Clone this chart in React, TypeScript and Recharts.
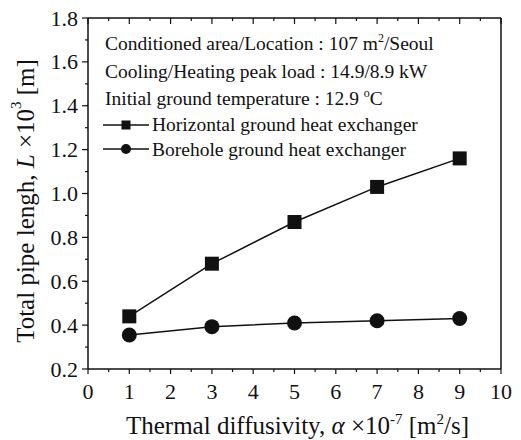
import React from 'react';
import { LineChart, Line, XAxis, YAxis, Legend } from 'recharts';

// ---- data ----
const alphaValues = [1, 3, 5, 7, 9];
const horizontalLength = [0.44, 0.68, 0.87, 1.03, 1.16];
const boreholeLength = [0.355, 0.393, 0.41, 0.42, 0.43];

const xMajorTicks = [0, 1, 2, 3, 4, 5, 6, 7, 8, 9, 10];
const xAllTicks = [0, 0.5, 1, 1.5, 2, 2.5, 3, 3.5, 4, 4.5, 5, 5.5, 6, 6.5, 7, 7.5, 8, 8.5, 9, 9.5, 10];
const yMajorTicks = [0.2, 0.4, 0.6, 0.8, 1.0, 1.2, 1.4, 1.6, 1.8];
const yAllTicks = [0.2, 0.3, 0.4, 0.5, 0.6, 0.7, 0.8, 0.9, 1.0, 1.1, 1.2, 1.3, 1.4, 1.5, 1.6, 1.7, 1.8];

const seriesNames = ['Horizontal ground heat exchanger', 'Borehole ground heat exchanger'];
const infoLine1 = ['Conditioned area/Location : 107 m', '2', '/Seoul'];
const infoLine2 = 'Cooling/Heating peak load : 14.9/8.9 kW';
const infoLine3 = ['Initial ground temperature : 12.9 ', 'o', 'C'];

const data = alphaValues.map((a, i) => ({
  alpha: a,
  horizontal: horizontalLength[i],
  borehole: boreholeLength[i],
}));

const FONT = '"Liberation Serif", "Times New Roman", serif';
const INK = '#111';
const DY = 8; // chart svg starts at page top (body margin compensated)

type Side = 'bottom' | 'left' | 'top' | 'right';

function makeTick(side: Side, majors: number[], fmt?: (v: number) => string) {
  return (props: any) => {
    const { x, y, payload } = props;
    const v = payload.value;
    const major = majors.includes(v);
    const len = major ? 6 : 3;
    let line;
    let label = null;
    if (side === 'bottom') {
      line = <line x1={x} y1={y} x2={x} y2={y + (major ? 5 : 3)} stroke={INK} strokeWidth={1.2} />;
      if (major && fmt) {
        label = (
          <text x={x} y={y + 30} textAnchor="middle" fontFamily={FONT} fontSize={22} fill={INK}>
            {fmt(v)}
          </text>
        );
      }
    } else if (side === 'left') {
      line = <line x1={x} y1={y} x2={x - (major ? 6 : 3)} y2={y} stroke={INK} strokeWidth={1.2} />;
      if (major && fmt) {
        label = (
          <text x={x - 10} y={y + 7.5} textAnchor="end" fontFamily={FONT} fontSize={22} fill={INK}>
            {fmt(v)}
          </text>
        );
      }
    } else if (side === 'top') {
      line = <line x1={x} y1={y} x2={x} y2={y + len} stroke={INK} strokeWidth={1.2} />;
    } else {
      line = <line x1={x} y1={y} x2={x - len} y2={y} stroke={INK} strokeWidth={1.2} />;
    }
    return (
      <g>
        {line}
        {label}
      </g>
    );
  };
}

const SquareDot = (props: any) => {
  const { cx, cy } = props;
  if (cx == null || cy == null) return null;
  return <rect x={cx - 7} y={cy - 7} width={14} height={14} fill={INK} />;
};

const CircleDot = (props: any) => {
  const { cx, cy } = props;
  if (cx == null || cy == null) return null;
  return <circle cx={cx} cy={cy} r={7.5} fill={INK} />;
};

const InfoBox = () => (
  <svg width={513} height={440} style={{ position: 'absolute', left: 0, top: 0, overflow: 'visible' }}>
    <g fontFamily={FONT} fontSize={19.5} fill={INK} transform={`translate(0, ${DY})`}>
      <text x={97} y={42}>
        {infoLine1[0]}
        <tspan dy={-8} fontSize={12}>{infoLine1[1]}</tspan>
        <tspan dy={8}>{infoLine1[2]}</tspan>
      </text>
      <text x={97} y={70}>{infoLine2}</text>
      <text x={97} y={97}>
        {infoLine3[0]}
        <tspan dy={-8} fontSize={12}>{infoLine3[1]}</tspan>
        <tspan dy={8}>{infoLine3[2]}</tspan>
      </text>
      <line x1={95} y1={117} x2={141} y2={117} stroke={INK} strokeWidth={1.3} />
      <rect x={113.5} y={112.5} width={9} height={9} fill={INK} />
      <text x={144} y={123}>{seriesNames[0]}</text>
      <line x1={95} y1={141} x2={141} y2={141} stroke={INK} strokeWidth={1.3} />
      <circle cx={118} cy={141} r={5} fill={INK} />
      <text x={144} y={148}>{seriesNames[1]}</text>
    </g>
  </svg>
);

const YLabel = (props: any) => {
  const vb = props.viewBox || { x: 0, y: 18, width: 80, height: 351 };
  const cx = vb.x + 20;
  const cy = vb.y + vb.height / 2 + 7.5;
  return (
    <text
      x={cx}
      y={cy}
      transform={`rotate(-90, ${cx}, ${cy})`}
      textAnchor="middle"
      fontFamily={FONT}
      fontSize={25}
      fill={INK}
      dominantBaseline="middle"
    >
      Total pipe lengh, <tspan fontStyle="italic">L</tspan> ×10
      <tspan dy={-10} fontSize={15}>3</tspan>
      <tspan dy={10}> [m]</tspan>
    </text>
  );
};

const XLabel = (props: any) => {
  const vb = props.viewBox || { x: 80, y: 369, width: 413, height: 71 };
  const cx = vb.x + vb.width / 2 + 3;
  const by = vb.y + 65;
  return (
    <text x={cx} y={by} textAnchor="middle" fontFamily={FONT} fontSize={25} fill={INK}>
      Thermal diffusivity, <tspan fontStyle="italic">α</tspan> ×10
      <tspan dy={-10} fontSize={15}>-7</tspan>
      <tspan dy={10}> [m</tspan>
      <tspan dy={-10} fontSize={15}>2</tspan>
      <tspan dy={10}>/s]</tspan>
    </text>
  );
};

export default function App() {
  return (
    <div style={{ marginTop: -DY }}>
      <LineChart
        width={513}
        height={440}
        data={data}
        margin={{ top: 9 + DY, right: 19, left: 0, bottom: 0 }}
        style={{ background: '#fff', overflow: 'visible' }}
      >
        <XAxis
          xAxisId="bottom"
          dataKey="alpha"
          type="number"
          domain={[0, 10]}
          ticks={xAllTicks}
          interval={0}
          height={71}
          tickSize={0}
          tickMargin={0}
          tickLine={false}
          axisLine={{ stroke: INK, strokeWidth: 1.5 }}
          tick={makeTick('bottom', xMajorTicks, (v) => String(v))}
          label={{ content: XLabel }}
        />
        <XAxis
          xAxisId="top"
          orientation="top"
          dataKey="alpha"
          type="number"
          domain={[0, 10]}
          ticks={xAllTicks}
          interval={0}
          height={1}
          tickSize={0}
          tickMargin={0}
          tickLine={false}
          axisLine={{ stroke: INK, strokeWidth: 1.5 }}
          tick={makeTick('top', xMajorTicks)}
        />
        <YAxis
          yAxisId="left"
          type="number"
          domain={[0.2, 1.8]}
          ticks={yAllTicks}
          interval={0}
          width={80}
          tickSize={0}
          tickMargin={0}
          tickLine={false}
          axisLine={{ stroke: INK, strokeWidth: 1.5 }}
          tick={makeTick('left', yMajorTicks, (v) => v.toFixed(1))}
          label={{ content: YLabel }}
        />
        <YAxis
          yAxisId="right"
          orientation="right"
          type="number"
          domain={[0.2, 1.8]}
          ticks={yAllTicks}
          interval={0}
          width={1}
          tickSize={0}
          tickMargin={0}
          tickLine={false}
          axisLine={{ stroke: INK, strokeWidth: 1.5 }}
          tick={makeTick('right', yMajorTicks)}
        />
        <Legend
          layout="horizontal"
          verticalAlign="middle"
          align="center"
          wrapperStyle={{ left: 0, top: 0, width: 513, height: 440, pointerEvents: 'none' }}
          content={() => <InfoBox />}
        />
        <Line
          xAxisId="bottom"
          yAxisId="left"
          type="linear"
          dataKey="horizontal"
          name={seriesNames[0]}
          stroke={INK}
          strokeWidth={1.5}
          dot={<SquareDot />}
          isAnimationActive={false}
        />
        <Line
          xAxisId="bottom"
          yAxisId="left"
          type="linear"
          dataKey="borehole"
          name={seriesNames[1]}
          stroke={INK}
          strokeWidth={1.5}
          dot={<CircleDot />}
          isAnimationActive={false}
        />
      </LineChart>
    </div>
  );
}
